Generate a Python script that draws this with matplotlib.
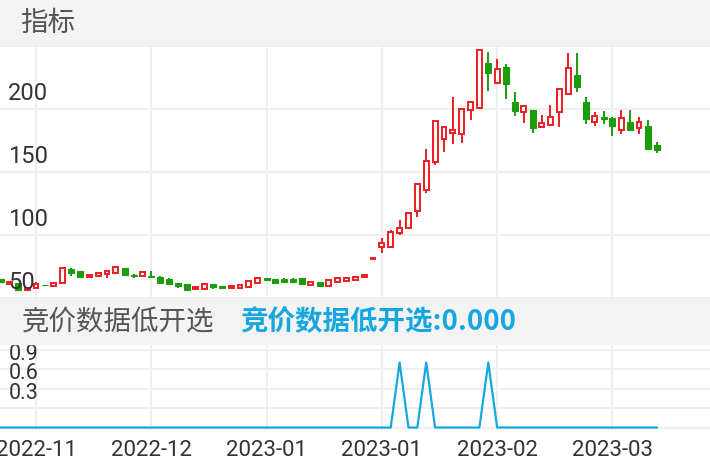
import matplotlib.pyplot as plt
from matplotlib.patches import Rectangle
import numpy as np

plt.rcParams['font.family'] = ['Roboto', 'Noto Sans CJK SC', 'DejaVu Sans']

# daily candles
opens = [65.1, 61.1, 61.9, 56.3, 57.9, 60.5, 59.5, 61.9, 73.0, 71.4,
         66.7, 67.5, 69.0, 69.8, 73.8, 67.9, 67.5, 67.1, 66.7, 65.1,
         61.9, 61.1, 57.1, 57.1, 61.1, 59.5, 57.9, 57.9, 58.7, 61.9,
         65.9, 65.1, 65.1, 65.1, 65.9, 60.3, 62.7, 59.5, 62.7, 63.5,
         64.3, 66.7, 81.0, 90.5, 90.5, 101.6, 105.6, 119.0, 135.7, 157.9,
         176.2, 181.0, 180.2, 199.2, 200.8, 236.5, 220.6, 233.3, 205.6, 197.6,
         199.2, 185.7, 187.3, 197.6, 211.9, 227.0, 205.6, 189.7, 193.7, 192.9,
         183.3, 189.7, 184.9, 186.5, 171.4]
closes = [62.7, 62.7, 56.3, 57.9, 61.1, 60.0, 61.9, 73.8, 69.8, 66.7,
          68.3, 69.8, 71.4, 74.6, 68.3, 67.1, 70.6, 66.7, 61.9, 61.1,
          59.5, 56.3, 58.7, 61.1, 58.7, 57.9, 59.5, 60.3, 63.5, 65.9,
          64.3, 61.9, 62.7, 62.7, 61.1, 62.7, 59.5, 64.3, 65.9, 65.9,
          66.7, 68.3, 81.7, 93.7, 102.4, 105.6, 117.5, 140.5, 158.7, 190.5,
          185.7, 183.3, 200.0, 205.6, 246.8, 228.6, 231.7, 219.8, 198.4, 202.4,
          184.9, 188.9, 193.7, 215.9, 232.5, 217.5, 192.1, 194.4, 192.1, 186.5,
          192.9, 183.3, 189.7, 168.3, 167.5]
highs = [65.1, 62.7, 61.9, 57.9, 62.7, 60.5, 61.9, 74.6, 73.5, 71.4,
         68.3, 70.6, 72.2, 75.4, 73.8, 69.0, 71.0, 71.4, 67.5, 65.9,
         61.9, 61.1, 58.7, 61.5, 61.1, 59.9, 59.9, 61.1, 63.5, 66.7,
         65.9, 65.1, 65.9, 65.5, 65.9, 62.7, 62.7, 64.3, 65.9, 65.9,
         67.5, 69.0, 81.7, 97.6, 104.0, 111.9, 118.3, 140.5, 168.3, 190.5,
         186.5, 209.5, 200.8, 206.4, 247.6, 245.2, 239.7, 235.7, 213.5, 203.2,
         199.2, 195.2, 203.2, 215.9, 244.4, 244.4, 209.5, 197.6, 198.4, 193.3,
         199.2, 199.2, 193.7, 191.3, 173.8]
lows = [62.7, 60.3, 56.3, 56.3, 57.9, 60.0, 59.5, 61.5, 67.5, 66.7,
        66.3, 67.5, 65.9, 69.8, 68.3, 65.9, 67.5, 66.7, 61.9, 61.1,
        57.9, 56.3, 57.1, 57.1, 57.1, 57.5, 57.9, 57.9, 58.7, 61.9,
        64.3, 61.9, 62.7, 62.7, 61.1, 60.3, 59.5, 59.5, 62.7, 63.5,
        64.3, 66.7, 81.0, 85.7, 89.7, 100.0, 105.6, 114.3, 133.3, 155.6,
        165.9, 172.2, 173.0, 191.3, 200.0, 214.3, 219.8, 207.9, 194.4, 188.9,
        181.0, 185.7, 186.5, 185.7, 211.9, 213.5, 188.1, 186.5, 188.1, 178.6,
        180.2, 183.3, 180.2, 167.5, 165.1]

# 竞价数据低开选 signal
signal = [0] * 75
for i in (45, 48, 55):
    signal[i] = 1

tick_pos = [4, 17, 30, 43, 56, 69]
tick_labels = ['2022-11', '2022-12', '2023-01', '2023-01', '2023-02', '2023-03']
price_levels = [250, 200, 150, 100, 50]
price_labels = [200, 150, 100, 50]
signal_levels = [0, 0.3, 0.6, 0.9, 1.2]
signal_labels = ['0.9', '0.6', '0.3']

RED = '#ee1c24'
GREEN = '#1b9c0b'
BLUE = '#17a7e0'
GRID = '#efefef'
BAND = '#f3f3f3'
TXT = '#333333'

W, H = 710, 472
fy = lambda px: 1 - px / H

fig = plt.figure(figsize=(W / 100, H / 100), dpi=100)
fig.patches.append(Rectangle((0, fy(45)), 1, 45 / H, transform=fig.transFigure,
                             color=BAND, zorder=0))
fig.patches.append(Rectangle((0, fy(344)), 1, (344 - 298) / H, transform=fig.transFigure,
                             color=BAND, zorder=0))
fig.text(20 / W, fy(23), '指标', fontsize=19.8, color='#555555', va='center',
         family=['Noto Sans CJK SC'])
fig.text(22 / W, fy(322), '竞价数据低开选', fontsize=19.8, color='#555555', va='center',
         family=['Noto Sans CJK SC'])
fig.text(240 / W, fy(322), '竞价数据低开选:0.000', fontsize=19.8, color=BLUE, va='center',
         weight='bold', family=['Noto Sans CJK SC'])

ax = fig.add_axes([0, fy(298), 1, (298 - 45) / H])
ax2 = fig.add_axes([0, fy(430), 1, (430 - 344) / H])

x = np.arange(len(opens))
o, c = np.array(opens), np.array(closes)
hi, lo = np.array(highs), np.array(lows)
up = c >= o

ax.vlines(x[up], lo[up], hi[up], color=RED, lw=1.4, zorder=2)
ax.vlines(x[~up], lo[~up], hi[~up], color=GREEN, lw=1.4, zorder=2)
ax.bar(x[up], c[up] - o[up], bottom=o[up], width=0.55, facecolor='white',
       edgecolor=RED, linewidth=1.4, zorder=3)
ax.bar(x[~up], o[~up] - c[~up], bottom=c[~up], width=0.68, facecolor=GREEN,
       edgecolor=GREEN, linewidth=0.8, zorder=3)

for v in price_levels:
    ax.axhline(v, color=GRID, lw=1.5, zorder=0)
for v in price_labels:
    ax.annotate(str(v), xy=(0, v), xycoords=ax.get_yaxis_transform(),
                xytext=(6, 6.5), textcoords='offset points', fontsize=17,
                color=TXT, ha='left', va='baseline', zorder=5)

ax2.plot(x, signal, color=BLUE, lw=1.6, zorder=3)
for v in signal_levels:
    ax2.axhline(v, color=GRID, lw=1.5, zorder=0)
for s in signal_labels:
    ax2.annotate(s, xy=(0, float(s)), xycoords=ax2.get_yaxis_transform(),
                 xytext=(6, 6.5), textcoords='offset points', fontsize=15.5,
                 color=TXT, ha='left', va='baseline', zorder=5)

for a in (ax, ax2):
    for t in tick_pos:
        a.axvline(t, color=GRID, lw=1.5, zorder=0)
    a.set_xlim(-0.06, 80)
    for sp in a.spines.values():
        sp.set_visible(False)
    a.set_yticks([])

ax.set_ylim(50, 250.8)
ax.set_xticks([])
ax2.set_ylim(-0.038, 1.285)
ax2.set_xticks(tick_pos)
ax2.set_xticklabels(tick_labels, fontsize=16, color=TXT)
ax2.tick_params(axis='x', length=0, pad=7)

fig.savefig('out.png', dpi=100)
